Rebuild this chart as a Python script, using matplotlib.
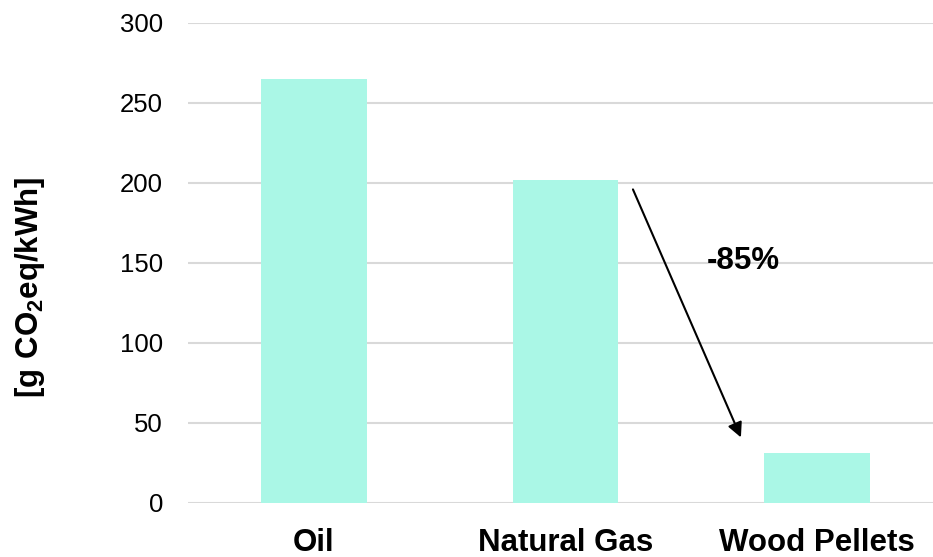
import matplotlib
matplotlib.use("Agg")
import matplotlib.pyplot as plt

# carbon footprint of heat by fuel
fuels = ["Oil", "Natural Gas", "Wood Pellets"]
emissions = [265, 202, 31]          # g CO2eq / kWh
yticks = [0, 50, 100, 150, 200, 250, 300]
drop_label = "-85%"

plt.rcParams["font.family"] = ["Liberation Sans", "DejaVu Sans"]
plt.rcParams["mathtext.fontset"] = "custom"
plt.rcParams["mathtext.rm"] = "Liberation Sans"
plt.rcParams["mathtext.bf"] = "Liberation Sans:bold"

fig = plt.figure(figsize=(9.33, 5.57), dpi=100)
# the plot area runs past the right edge of the canvas, like the original
ax = fig.add_axes([188 / 933, 1 - 503 / 557, 755 / 933, 480 / 557])

x = range(len(fuels))
ax.bar(x, emissions, width=0.42, color="#AAF7E6", zorder=2)

ax.set_xlim(-0.5, 2.5)
ax.set_ylim(0, 300)
ax.set_yticks(yticks)
ax.set_xticks(list(x))
ax.set_xticklabels(fuels, fontsize=22.5, fontweight="bold")
ax.tick_params(axis="y", length=0, pad=18, labelsize=18.5)
ax.tick_params(axis="x", length=0, pad=18)

ax.grid(axis="y", color="#D9D9D9", lw=1.5, zorder=0)
for s in ax.spines.values():
    s.set_visible(False)

ax.set_ylabel(r"$\mathbf{[g\ CO_2eq/kWh]}$", fontsize=22.5)
ax.yaxis.set_label_coords(-0.187, 0.449)

# arrow from natural gas down to wood pellets
ax.annotate("", xy=(1.697, 41), xytext=(1.268, 196),
            arrowprops=dict(arrowstyle="-|>", color="black", lw=1.5,
                            mutation_scale=22, shrinkA=0, shrinkB=0),
            zorder=3)
ax.text(1.705, 151, drop_label, fontsize=22.5, fontweight="bold",
        ha="center", va="center")

fig.savefig("out.png", dpi=100)
